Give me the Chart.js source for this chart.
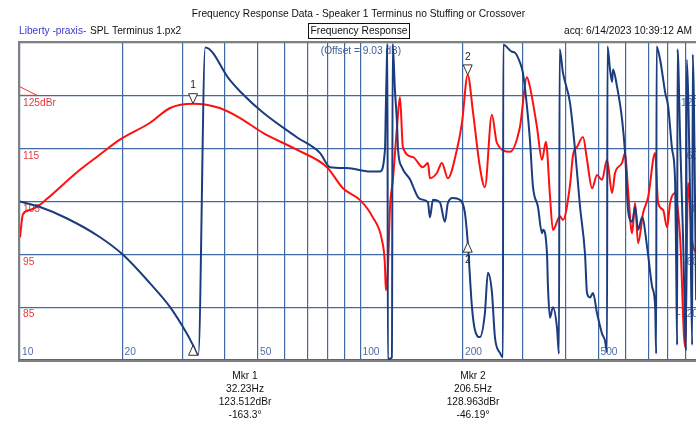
<!DOCTYPE html>
<html>
<head>
<meta charset="utf-8">
<title>Frequency Response Data</title>
<script src="https://cdn.jsdelivr.net/npm/chart.js@4.4.1/dist/chart.umd.min.js"></script>
<style>
  html, body { margin: 0; padding: 0; background: #fff; overflow: hidden; }
  #wrap { width: 712px; height: 422px; }
</style>
</head>
<body>
<div id="wrap"><canvas id="fr" width="712" height="422"></canvas></div>
<script>
// SPL magnitude, Hz / dBr
const splFreq = [10, 10.2, 10.7, 11.4, 12.0, 15.0, 17.1, 19.65, 24.1, 27.6, 32.23, 38.6, 44.3, 51.7, 65.0, 79.7, 88.8, 99.6,
  108.7, 115.6, 117.9, 118.7, 120.3, 122.1, 124.5, 128.0, 130.6, 133.2, 142.6, 152.5, 157.8, 159.9, 167.6, 173.4, 180.5,
  191.9, 198.6, 206.5, 213.9, 224.2, 231.9, 243.1, 251.5, 274.6, 293.9, 308.2, 314.5, 329.8, 341.1, 350.4, 360.0, 367.4,
  385.3, 393.2, 412.4, 420.9, 432.4, 450.3, 462.6, 478.6, 495.1, 512.0, 529.6, 547.9, 559.2, 586.3, 598.3, 610.6, 627.5,
  640.3, 653.4, 675.9, 699.3, 733.2, 748.3, 773.9, 795.1, 811.4, 839.3, 868.2, 898.1, 916.6, 941.7, 967.5];
const splDb = [98.2, 102.6, 103.4, 104.3, 105.5, 111.0, 113.8, 116.7, 119.9, 122.7, 123.512, 122.7, 120.8, 118.0, 114.8, 111.5, 107.5, 105.3,
  102.0, 97.7, 93.3, 88.2, 92.0, 103.9, 109.1, 119.1, 124.8, 115.3, 113.4, 111.5, 112.3, 109.4, 110.4, 112.3, 109.4,
  114.8, 119.9, 128.963, 122.0, 111.5, 107.7, 121.4, 116.1, 114.4, 119.1, 128.5, 126.7, 119.1, 112.9, 116.3, 106.2, 99.6,
  102.2, 101.5, 108.1, 113.8, 115.3, 117.2, 112.9, 107.5, 110.0, 109.1, 112.9, 106.6, 110.4, 112.3, 114.2, 107.2, 99.0,
  104.7, 97.1, 102.8, 105.8, 114.2, 104.7, 103.4, 100.1, 104.7, 106.6, 98.2, 77.4, 108.5, 97.7, 95.2];

// phase, Hz / degrees (wrapped to +-180)
const phaseFreq = [10, 11.4, 13.7, 17.1, 20.0, 24.1, 27.6, 30.9, 32.23, 33.4, 35.0, 41.3, 44.3, 51.7, 65.0, 76.1, 81.3, 91.2,
  106.6, 114.1, 118.0, 118.7, 119.6, 120.0, 120.3, 123.7, 124.3, 126.2, 128.0, 128.9, 132.3, 139.8, 147.5, 152.5, 157.8,
  159.9, 163.2, 171.1, 177.0, 180.5, 186.7, 195.8, 202.6, 206.5, 212.5, 216.8, 224.2, 231.9, 236.7, 243.2, 248.2, 256.8,
  262.0, 262.6, 278.5, 284.2, 293.9, 299.9, 308.2, 314.5, 321.0, 332.0, 341.1, 343.5, 352.9, 355.3, 360.0, 367.4, 377.6,
  382.7, 384.5, 393.2, 412.4, 426.6, 441.3, 456.3, 462.7, 472.2, 481.8, 495.1, 512.0, 522.4, 529.6, 531.3, 540.5, 548.0,
  551.8, 567.0, 586.5, 598.5, 610.8, 627.8, 640.6, 653.7, 671.6, 694.8, 718.8, 733.5, 738.6, 740.5, 758.6, 784.7, 800.8,
  822.8, 839.6, 845.3, 851.0, 853.2, 868.5, 886.2, 904.5, 907.6, 929.2, 942.0, 945.6, 967.8];
const phaseDeg = [0, -6, -19, -40, -60, -93, -120, -150, -163.3, -174, 175, 138, 125, 101, 73, 55, 39, 38,
  34, 34, 59, 108, 165, 179, -179, -177, 179, 127, 89, 59, 39, 25, 5, 2, -1,
  -18, 2, -1, -23, -2, 4, 2, -13, -46.19, -120, -146, -154, -127, -81, -103, -154, -172,
  -177, 178, 170, 169, 158, 146, 108, 70, 17, -6, -36, -32, -59, -97, -132, -120, -143,
  -173, 173, 146, 112, 59, -6, -59, -104, -109, -104, -127, -150, -158, -171, 176, 150, 136,
  150, 130, 93, 55, -10, -23, -6, -32, -18, -52, -97, -120, -173, 176, 161, 124, 108,
  59, 21, -67, -163, 173, 70, -44, -169, 161, 2, -163, 167, -112];

// axes
const freqGrid = [10, 20, 30, 40, 50, 60, 70, 80, 90, 100, 200, 300, 400, 500, 600, 700, 800, 900, 1000];
const freqLabels = [10, 20, 50, 100, 200, 500];
const dbTicks = [125, 115, 105, 95, 85];
const dbLabels = ['125dBr', '115', '105', '95', '85'];
const phaseTicks = [120, 60, 0, -60, -120];

// markers
const mkrFreq = [32.23, 206.5];
const mkrDb = [123.512, 128.963];
const mkrDeg = [-163.3, -46.19];

const FONT = '10.2px "Liberation Sans", Arial, sans-serif';

function tri(ctx, x, tipY, dir) {
  // dir 1 = pointing down (tip at bottom), -1 = pointing up
  const h = 10, w = 4.5;
  ctx.beginPath();
  ctx.moveTo(x, tipY);
  ctx.lineTo(x - w, tipY - dir * h);
  ctx.lineTo(x + w, tipY - dir * h);
  ctx.closePath();
  ctx.fill();
  ctx.stroke();
}

const decor = {
  id: 'decor',
  beforeDraw(chart) {
    const { ctx, width, height } = chart;
    ctx.save();
    ctx.fillStyle = '#fff';
    ctx.fillRect(0, 0, width, height);
    ctx.restore();
  },
  beforeDatasetsDraw(chart) {
    const { ctx, chartArea: a, scales } = chart;
    const xs = scales.x, ys = scales.spl, ps = scales.phase;
    ctx.save();
    ctx.font = FONT;
    ctx.textBaseline = 'middle';

    ctx.fillStyle = '#e8383d';
    ctx.textAlign = 'left';
    dbTicks.forEach((v, i) => ctx.fillText(dbLabels[i], a.left + 3, ys.getPixelForValue(v) + 7.5));

    // reference level flag
    const ry = ys.getPixelForValue(125);
    ctx.strokeStyle = '#e8383d';
    ctx.lineWidth = 1;
    ctx.beginPath();
    ctx.moveTo(a.left, ry - 9);
    ctx.lineTo(a.left + 17, ry - 0.5);
    ctx.lineTo(a.left, ry - 0.5);
    ctx.stroke();

    ctx.fillStyle = '#4f6ea8';
    ctx.textAlign = 'right';
    phaseTicks.forEach(v => ctx.fillText(String(v), a.right - 3, ps.getPixelForValue(v) + 7.5));

    ctx.textAlign = 'left';
    freqLabels.forEach(v => ctx.fillText(String(v), xs.getPixelForValue(v) + 2, a.bottom - 8));

    ctx.fillStyle = '#41609a';
    ctx.textAlign = 'center';
    ctx.fillText('(Offset = 9.03 dB)', 361, a.top + 8);
    ctx.restore();
  },
  afterDatasetsDraw(chart) {
    const { ctx, chartArea: a, scales } = chart;
    const xs = scales.x, ys = scales.spl, ps = scales.phase;
    ctx.save();
    ctx.beginPath();
    ctx.rect(a.left, a.top, a.right - a.left, a.bottom - a.top);
    ctx.clip();
    ctx.font = FONT;
    ctx.textAlign = 'center';
    ctx.textBaseline = 'middle';
    ctx.strokeStyle = '#333';
    ctx.lineWidth = 1;
    mkrFreq.forEach((f, i) => {
      const x = xs.getPixelForValue(f);
      const yd = ys.getPixelForValue(mkrDb[i]);
      const yp = ps.getPixelForValue(mkrDeg[i]);
      ctx.fillStyle = '#fff';
      tri(ctx, x, yd, 1);
      tri(ctx, x, yp, -1);
      ctx.fillStyle = '#222';
      ctx.fillText(String(i + 1), x, yd - 18);
      if (yp + 18 < a.bottom - 4) ctx.fillText(String(i + 1), x, yp + 18);
    });
    ctx.restore();
  },
  afterDraw(chart) {
    const { ctx, chartArea: a } = chart;
    ctx.save();
    // plot frame
    ctx.strokeStyle = '#808080';
    ctx.lineWidth = 2;
    ctx.strokeRect(a.left - 1, a.top - 1, a.right - a.left + 2, a.bottom - a.top + 2);

    ctx.font = FONT;
    ctx.textBaseline = 'middle';
    ctx.fillStyle = '#111';
    ctx.textAlign = 'center';
    ctx.fillText('Frequency Response Data - Speaker 1 Terminus no Stuffing or Crossover', 358.5, 14);

    ctx.textAlign = 'left';
    ctx.fillStyle = '#3b3bcf';
    ctx.fillText('Liberty -praxis-', 19, 31);
    ctx.fillStyle = '#111';
    ctx.fillText('SPL Terminus 1.px2', 90, 31);

    ctx.lineWidth = 1;
    ctx.strokeStyle = '#111';
    ctx.strokeRect(308.5, 23.5, 101, 15);
    ctx.textAlign = 'center';
    ctx.fillText('Frequency Response', 359, 31);

    ctx.textAlign = 'right';
    ctx.fillText('acq: 6/14/2023 10:39:12 AM', 692, 31);

    // marker readouts
    ctx.textAlign = 'center';
    const cols = [245, 473];
    mkrFreq.forEach((f, i) => {
      const cx = cols[i];
      ctx.fillText('Mkr ' + (i + 1), cx, 376);
      ctx.fillText(f + 'Hz', cx, 389.5);
      ctx.fillText(mkrDb[i].toFixed(3) + 'dBr', cx, 402.5);
      ctx.fillText(mkrDeg[i] + '\u00b0', cx, 415.5);
    });
    ctx.restore();
  }
};

const grid = { color: '#4169a6', lineWidth: 1.2, drawTicks: false };

new Chart(document.getElementById('fr'), {
  type: 'line',
  data: {
    datasets: [
      {
        label: 'Phase',
        data: phaseFreq.map((f, i) => ({ x: f, y: phaseDeg[i] })),
        yAxisID: 'phase',
        borderColor: '#1b3c7e',
        borderWidth: 2,
        pointRadius: 0,
        cubicInterpolationMode: 'monotone',
        order: 0
      },
      {
        label: 'SPL',
        data: splFreq.map((f, i) => ({ x: f, y: splDb[i] })),
        yAxisID: 'spl',
        borderColor: '#ff1010',
        borderWidth: 2,
        pointRadius: 0,
        cubicInterpolationMode: 'monotone',
        order: 1
      }
    ]
  },
  options: {
    responsive: false,
    animation: false,
    events: [],
    layout: { padding: { left: 20, top: 43, right: 11, bottom: 62 } },
    plugins: {
      legend: { display: false },
      tooltip: { enabled: false },
      title: { display: false }
    },
    scales: {
      x: {
        type: 'logarithmic',
        min: 10,
        max: 1000,
        afterBuildTicks: (scale) => { scale.ticks = freqGrid.map(v => ({ value: v, major: true })); },
        ticks: { display: false, padding: 0 },
        grid: grid,
        border: { display: false }
      },
      spl: {
        type: 'linear',
        position: 'left',
        min: 75,
        max: 135,
        ticks: { display: false, stepSize: 10, padding: 0 },
        grid: grid,
        border: { display: false }
      },
      phase: {
        type: 'linear',
        position: 'right',
        display: false,
        min: -180,
        max: 180
      }
    }
  },
  plugins: [decor]
});
</script>
</body>
</html>
